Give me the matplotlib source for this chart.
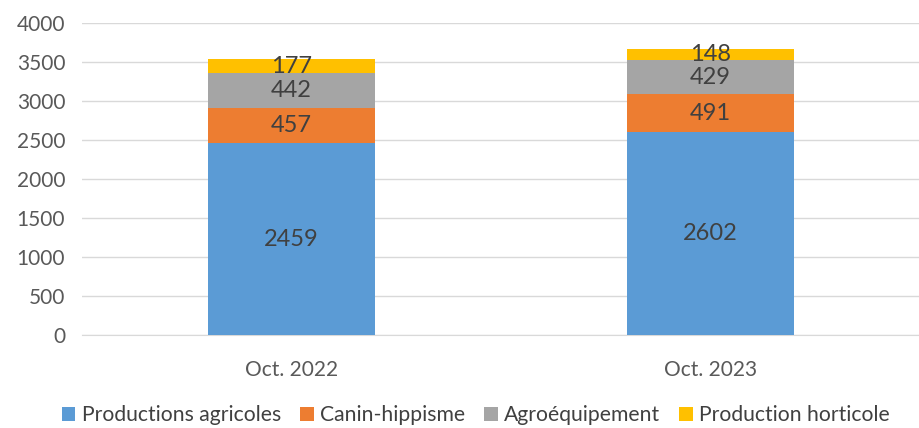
import numpy as np
import matplotlib
matplotlib.use("Agg")
import matplotlib.pyplot as plt

plt.rcParams['font.family'] = ['Lato', 'DejaVu Sans']

categories = ["Oct. 2022", "Oct. 2023"]
series_names = ["Productions agricoles", "Canin-hippisme", "Agroéquipement", "Production horticole"]
productions_agricoles = [2459, 2602]
canin_hippisme = [457, 491]
agroequipement = [442, 429]
production_horticole = [177, 148]

colors = ["#5B9BD5", "#ED7D31", "#A5A5A5", "#FFC000"]
valeurs = [productions_agricoles, canin_hippisme, agroequipement, production_horticole]

fig = plt.figure(figsize=(9.2, 4.28), dpi=100)
ax = fig.add_axes([0.089, 0.217, 0.911, 0.729])

x = np.arange(len(categories))
bas = np.zeros(len(categories))
for nom, vals, col in zip(series_names, valeurs, colors):
    barres = ax.bar(x, vals, width=0.40, bottom=bas, color=col, label=nom, zorder=3)
    ax.bar_label(barres, labels=[str(v) for v in vals], label_type='center',
                 fontsize=17, color='#404040')
    bas += np.array(vals)

ax.set_xlim(-0.5, 1.5)
ax.set_ylim(0, 4000)
ax.set_yticks(np.arange(0, 4001, 500))
ax.set_xticks(x)
ax.set_xticklabels(categories)
ax.tick_params(axis='both', length=0, labelsize=15, colors='#595959')
ax.tick_params(axis='x', pad=18)
ax.tick_params(axis='y', pad=12)
ax.grid(axis='y', color='#D9D9D9', linewidth=1, zorder=0)
for side in ['top', 'right', 'left']:
    ax.spines[side].set_visible(False)
ax.spines['bottom'].set_color('#D9D9D9')

ax.legend(loc='lower center', bbox_to_anchor=(0.47, -0.33), ncol=4, frameon=False,
          fontsize=15.2, labelcolor='#404040', handlelength=0.65, handleheight=0.65,
          handletextpad=0.3, columnspacing=0.9, borderpad=0.1)

fig.savefig("out.png", dpi=100)
